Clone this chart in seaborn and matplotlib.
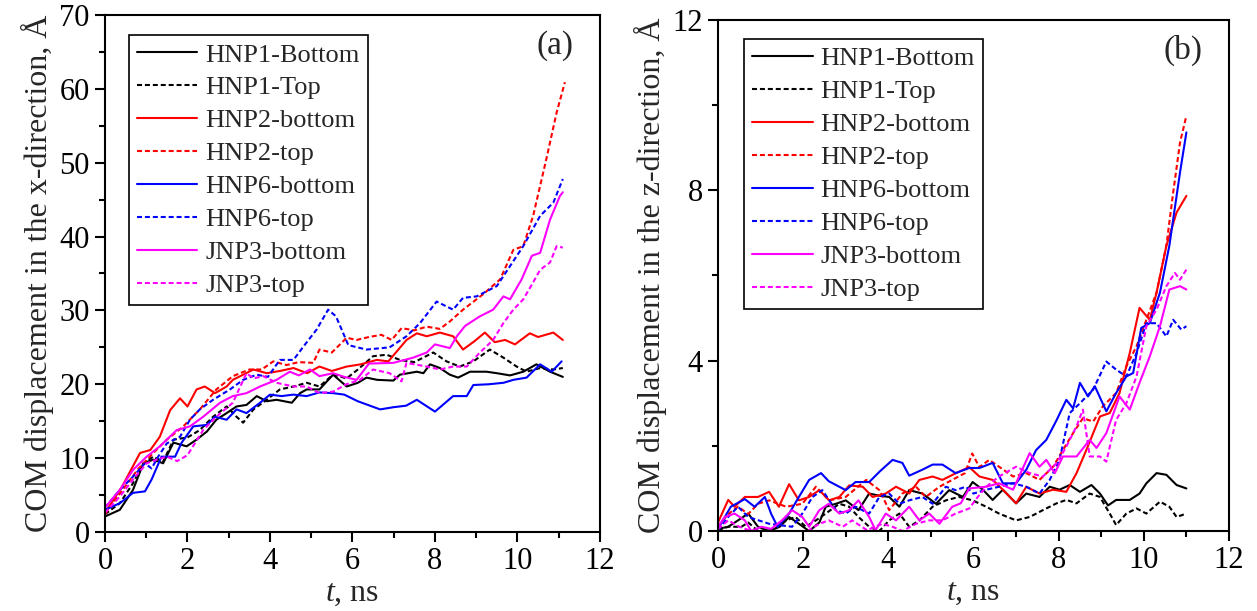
import matplotlib
matplotlib.use("Agg")
import matplotlib.pyplot as plt
from matplotlib.ticker import MultipleLocator
import seaborn as sns

# ---------------- (a) COM displacement along x ----------------
a_hnp1_bot_t = [0, 0.36, 0.68, 0.93, 1.17, 1.41, 1.66, 1.98, 2.22, 2.47, 2.7, 2.95, 3.19, 3.43, 3.68, 3.92, 4.16, 4.53, 4.73, 4.89, 5.2, 5.53, 5.86, 6.13, 6.34, 6.6, 6.99, 7.15, 7.56, 7.72, 7.88, 8.12, 8.36, 8.56, 8.85, 9.25, 9.5, 9.82, 10.14, 10.46, 10.79, 11.1]
a_hnp1_bot_y = [2.1, 3.0, 5.7, 9.3, 9.8, 9.3, 12.1, 11.6, 12.5, 13.6, 15.2, 16.1, 17.0, 17.2, 18.4, 17.7, 17.9, 17.5, 18.8, 19.3, 19.3, 21.3, 19.7, 20.2, 20.9, 20.6, 20.5, 21.3, 21.7, 21.5, 22.7, 22.2, 21.3, 20.9, 21.7, 21.7, 21.5, 21.2, 21.7, 22.7, 21.7, 21.0]

a_hnp1_top_t = [0, 0.36, 0.68, 0.93, 1.17, 1.41, 1.66, 2.0, 2.3, 2.62, 2.95, 3.19, 3.35, 3.6, 3.92, 4.24, 4.57, 4.89, 5.2, 5.53, 5.86, 6.13, 6.5, 6.83, 7.15, 7.5, 7.96, 8.28, 8.6, 8.93, 9.33, 9.66, 9.98, 10.22, 10.55, 10.87, 11.1]
a_hnp1_top_y = [2.4, 3.9, 6.6, 9.3, 10.2, 9.5, 12.5, 12.8, 13.8, 15.6, 17.0, 15.6, 14.8, 16.6, 17.9, 19.3, 19.7, 20.2, 19.7, 21.3, 20.8, 22.0, 23.8, 24.0, 23.3, 23.0, 24.3, 23.1, 22.4, 23.1, 24.7, 23.6, 22.4, 21.7, 22.2, 22.0, 22.2]

a_hnp2_bot_t = [0, 0.4, 0.85, 1.1, 1.33, 1.58, 1.82, 2.0, 2.22, 2.42, 2.67, 2.95, 3.1, 3.6, 3.92, 4.24, 4.57, 4.9, 5.2, 5.5, 5.86, 6.2, 6.59, 6.87, 7.31, 7.56, 7.8, 8.12, 8.44, 8.68, 8.95, 9.21, 9.45, 9.7, 9.94, 10.3, 10.5, 10.87, 11.1]
a_hnp2_bot_y = [2.6, 6.0, 10.7, 11.1, 12.9, 16.5, 18.1, 17.0, 19.3, 19.7, 18.8, 19.7, 20.6, 22.0, 21.5, 21.8, 22.2, 21.5, 22.4, 21.8, 22.4, 22.7, 23.3, 23.1, 26.0, 26.9, 26.5, 27.0, 26.5, 24.7, 25.8, 27.0, 25.7, 26.0, 25.4, 26.9, 26.4, 27.0, 26.0]

a_hnp2_top_t = [0, 0.4, 0.8, 1.17, 1.5, 1.9, 2.3, 2.7, 3.1, 3.5, 3.8, 4.08, 4.4, 4.7, 5.05, 5.2, 5.5, 5.86, 6.1, 6.4, 6.7, 6.95, 7.19, 7.5, 7.8, 8.12, 8.36, 8.68, 9.17, 9.58, 9.9, 10.14, 10.38, 10.7, 10.95, 11.15]
a_hnp2_top_y = [2.4, 5.5, 8.5, 10.7, 12.5, 14.3, 16.6, 19.3, 21.1, 22.0, 22.0, 23.1, 22.6, 23.0, 22.9, 24.7, 24.3, 26.3, 26.0, 26.4, 26.7, 26.0, 27.6, 27.3, 27.8, 27.5, 28.5, 30.1, 32.2, 34.2, 38.2, 38.7, 42.8, 50.5, 56.8, 60.9]

a_hnp6_bot_t = [0, 0.36, 0.68, 0.97, 1.13, 1.37, 1.7, 1.86, 2.14, 2.47, 2.67, 2.95, 3.19, 3.43, 3.76, 4.0, 4.28, 4.57, 4.89, 5.2, 5.53, 5.8, 6.13, 6.67, 7.0, 7.3, 7.56, 8.0, 8.44, 8.77, 8.93, 9.3, 9.66, 9.9, 10.22, 10.55, 10.83, 11.07]
a_hnp6_bot_y = [3.0, 3.9, 5.3, 5.5, 7.1, 10.2, 10.2, 12.1, 14.3, 14.5, 15.6, 15.2, 16.6, 16.1, 17.5, 18.6, 18.4, 18.6, 18.4, 18.9, 18.8, 18.6, 17.7, 16.6, 16.9, 17.1, 17.9, 16.3, 18.4, 18.4, 19.9, 20.0, 20.2, 20.6, 20.9, 22.7, 21.7, 23.1]

a_hnp6_top_t = [0, 0.36, 0.68, 0.97, 1.13, 1.29, 1.5, 1.82, 2.06, 2.3, 2.62, 3.03, 3.35, 3.68, 3.95, 4.24, 4.57, 4.81, 5.13, 5.41, 5.6, 5.9, 6.34, 6.9, 7.31, 7.64, 8.04, 8.44, 8.68, 9.01, 9.5, 9.82, 10.14, 10.55, 10.87, 11.1]
a_hnp6_top_y = [3.3, 5.7, 7.5, 9.3, 8.6, 10.2, 12.0, 12.9, 15.2, 16.6, 17.9, 19.3, 20.6, 21.3, 21.0, 23.3, 23.3, 25.1, 27.4, 30.1, 29.2, 25.3, 24.7, 25.0, 26.5, 28.3, 31.2, 30.1, 31.7, 31.9, 33.3, 36.0, 38.7, 42.8, 44.6, 47.8]

a_jnp3_bot_t = [0, 0.36, 0.68, 1.01, 1.33, 1.74, 2.06, 2.38, 2.79, 3.1, 3.43, 3.76, 4.16, 4.48, 4.7, 4.97, 5.2, 5.53, 5.8, 6.1, 6.4, 6.99, 7.47, 7.8, 8.0, 8.36, 8.53, 8.73, 9.09, 9.41, 9.66, 9.82, 10.1, 10.35, 10.55, 10.79, 11.03, 11.1]
a_jnp3_bot_y = [3.3, 5.7, 8.4, 10.2, 11.6, 13.8, 14.3, 15.6, 17.5, 18.4, 18.8, 19.7, 20.6, 21.7, 21.2, 22.0, 21.1, 21.5, 21.0, 20.6, 22.8, 22.9, 23.6, 24.3, 25.4, 24.9, 26.5, 27.9, 29.2, 30.1, 31.9, 31.5, 34.2, 37.4, 37.8, 42.3, 45.5, 46.0]

a_jnp3_top_t = [0, 0.36, 0.68, 1.01, 1.25, 1.5, 1.75, 2.0, 2.38, 2.7, 3.1, 3.43, 3.6, 3.84, 4.16, 4.57, 4.89, 5.2, 5.53, 5.85, 6.18, 6.5, 6.9, 7.19, 7.31, 7.8, 8.12, 8.44, 8.77, 9.09, 9.41, 9.66, 9.9, 10.14, 10.38, 10.55, 10.79, 10.95, 11.1]
a_jnp3_top_y = [2.6, 4.8, 7.1, 9.3, 9.8, 10.2, 9.6, 10.4, 13.8, 15.6, 17.5, 21.5, 20.8, 21.1, 20.2, 19.7, 19.7, 18.8, 19.0, 20.0, 20.6, 22.0, 21.5, 20.4, 22.9, 22.4, 22.0, 22.4, 22.4, 24.3, 26.0, 28.3, 30.1, 31.5, 33.8, 35.5, 36.5, 38.7, 38.5]

# ---------------- (b) COM displacement along z ----------------
b_hnp1_bot_t = [0, 0.24, 0.47, 0.71, 0.94, 1.2, 1.45, 1.67, 1.9, 2.14, 2.38, 2.53, 2.77, 3.0, 3.3, 3.55, 3.79, 4.02, 4.26, 4.49, 4.8, 5.12, 5.43, 5.75, 5.98, 6.22, 6.45, 6.69, 7.0, 7.24, 7.55, 7.79, 8.02, 8.26, 8.5, 8.77, 8.97, 9.16, 9.35, 9.67, 9.9, 10.06, 10.3, 10.53, 10.77, 11.0]
b_hnp1_bot_y = [0.05, 0.1, 0.25, 0.41, 0.1, 0.0, 0.1, 0.33, 0.17, 0.0, 0.2, 0.57, 0.64, 0.72, 0.49, 0.88, 0.83, 0.8, 0.57, 0.96, 0.88, 0.64, 0.96, 0.8, 1.15, 0.97, 0.73, 0.97, 0.65, 0.88, 0.8, 1.04, 0.97, 1.08, 0.92, 1.08, 0.88, 0.6, 0.73, 0.73, 0.88, 1.12, 1.36, 1.32, 1.08, 1.0]

b_hnp1_top_t = [0, 0.24, 0.55, 0.71, 0.94, 1.3, 1.6, 1.82, 2.06, 2.3, 2.53, 2.85, 3.08, 3.3, 3.55, 3.79, 4.02, 4.26, 4.49, 4.73, 5.04, 5.35, 5.66, 5.98, 6.3, 6.6, 7.0, 7.32, 7.63, 7.95, 8.18, 8.42, 8.73, 8.97, 9.2, 9.35, 9.59, 9.83, 10.06, 10.38, 10.6, 10.77, 11.0]
b_hnp1_top_y = [0.02, 0.1, 0.1, 0.2, 0.0, 0.02, 0.25, 0.33, 0.1, 0.25, 0.41, 0.64, 0.57, 0.33, 0.1, 0.0, 0.25, 0.41, 0.1, 0.25, 0.57, 0.72, 0.8, 0.72, 0.57, 0.41, 0.25, 0.33, 0.49, 0.65, 0.73, 0.65, 0.88, 0.8, 0.41, 0.14, 0.41, 0.53, 0.41, 0.69, 0.57, 0.33, 0.41]

b_hnp2_bot_t = [0, 0.24, 0.39, 0.63, 0.94, 1.2, 1.43, 1.67, 1.9, 2.14, 2.38, 2.61, 2.85, 3.08, 3.4, 3.63, 3.94, 4.18, 4.49, 4.73, 5.04, 5.27, 5.59, 5.9, 6.14, 6.45, 6.69, 7.0, 7.24, 7.55, 7.87, 8.18, 8.42, 8.65, 8.97, 9.2, 9.43, 9.67, 9.9, 10.14, 10.3, 10.53, 10.77, 11.0]
b_hnp2_bot_y = [0.2, 0.73, 0.57, 0.8, 0.8, 0.92, 0.57, 1.1, 0.72, 0.8, 0.96, 0.72, 0.8, 1.07, 1.04, 0.8, 0.88, 1.04, 0.88, 1.2, 1.28, 1.2, 1.36, 1.5, 1.28, 1.2, 0.97, 0.65, 1.04, 0.88, 0.97, 0.92, 1.36, 1.9, 2.69, 2.77, 3.24, 4.18, 5.24, 4.96, 5.6, 6.7, 7.48, 7.87]

b_hnp2_top_t = [0, 0.24, 0.47, 0.71, 0.94, 1.2, 1.6, 1.98, 2.3, 2.61, 3.0, 3.48, 3.79, 4.02, 4.33, 4.65, 4.88, 5.2, 5.5, 5.8, 5.97, 6.14, 6.37, 6.6, 6.93, 7.24, 7.55, 7.87, 8.1, 8.34, 8.57, 8.81, 9.04, 9.35, 9.59, 9.83, 10.06, 10.3, 10.53, 10.69, 10.85, 11.0]
b_hnp2_top_y = [0.1, 0.4, 0.57, 0.4, 0.64, 0.72, 0.57, 0.64, 1.04, 0.72, 0.8, 1.2, 0.96, 0.49, 0.88, 1.04, 0.8, 1.04, 1.2, 1.36, 1.82, 1.5, 1.67, 1.51, 1.28, 1.36, 1.2, 1.51, 1.9, 2.3, 2.65, 2.57, 2.93, 3.24, 3.87, 4.34, 4.96, 5.6, 6.7, 7.95, 9.12, 9.75]

b_hnp6_bot_t = [0, 0.3, 0.63, 0.86, 1.1, 1.25, 1.4, 1.67, 1.9, 2.14, 2.42, 2.6, 3.0, 3.23, 3.55, 3.8, 4.1, 4.33, 4.49, 4.8, 5.04, 5.27, 5.58, 5.9, 6.14, 6.45, 6.69, 7.0, 7.24, 7.47, 7.71, 7.95, 8.18, 8.34, 8.5, 8.69, 8.85, 9.12, 9.35, 9.59, 9.75, 9.94, 10.14, 10.38, 10.6, 10.85, 11.0]
b_hnp6_bot_y = [0.05, 0.57, 0.75, 0.57, 0.8, 0.4, 0.1, 0.41, 0.8, 1.2, 1.36, 1.17, 0.96, 1.15, 1.15, 1.4, 1.67, 1.6, 1.3, 1.44, 1.56, 1.56, 1.36, 1.48, 1.48, 1.6, 1.12, 1.12, 1.44, 1.9, 2.14, 2.6, 3.08, 2.88, 3.48, 3.16, 3.4, 2.81, 3.24, 3.63, 3.71, 4.77, 4.88, 5.6, 6.7, 8.42, 9.36]

b_hnp6_top_t = [0, 0.24, 0.47, 0.71, 1.2, 1.74, 1.98, 2.22, 2.45, 2.77, 3.0, 3.23, 3.55, 3.79, 4.02, 4.26, 4.49, 4.8, 5.04, 5.35, 5.58, 5.82, 6.0, 6.3, 6.6, 6.93, 7.24, 7.55, 7.79, 8.02, 8.26, 8.5, 8.81, 9.12, 9.35, 9.59, 9.83, 10.06, 10.3, 10.53, 10.69, 10.88, 11.0]
b_hnp6_top_y = [0.02, 0.33, 0.57, 0.33, 0.17, 0.1, 0.41, 0.8, 0.96, 0.49, 0.41, 0.57, 0.41, 0.8, 0.88, 0.64, 0.72, 0.8, 0.64, 1.04, 0.96, 1.04, 0.88, 0.97, 1.04, 1.12, 1.04, 0.88, 1.2, 1.67, 2.77, 3.0, 3.32, 3.98, 3.79, 3.63, 4.18, 4.88, 4.88, 4.57, 4.96, 4.73, 4.81]

b_jnp3_bot_t = [0, 0.16, 0.39, 0.63, 0.78, 1.02, 1.25, 1.5, 1.74, 1.98, 2.14, 2.38, 2.6, 2.85, 3.08, 3.3, 3.55, 3.7, 3.94, 4.18, 4.49, 4.73, 4.96, 5.2, 5.5, 5.7, 5.9, 6.3, 6.6, 6.93, 7.32, 7.55, 7.71, 7.91, 8.1, 8.42, 8.73, 8.89, 9.12, 9.43, 9.67, 9.9, 10.14, 10.38, 10.6, 10.85, 11.0]
b_jnp3_bot_y = [0.1, 0.33, 0.41, 0.25, 0.0, 0.1, 0.05, 0.25, 0.49, 0.33, 0.1, 0.49, 0.64, 0.41, 0.49, 0.72, 0.33, 0.02, 0.41, 0.25, 0.57, 0.25, 0.41, 0.17, 0.57, 0.65, 1.0, 1.04, 1.12, 0.97, 1.83, 1.51, 1.67, 1.36, 1.75, 1.75, 2.14, 1.95, 2.3, 3.16, 2.85, 3.48, 4.1, 4.81, 5.67, 5.75, 5.67]

b_jnp3_top_t = [0, 0.24, 0.5, 0.78, 1.33, 2.1, 2.38, 2.6, 2.93, 3.15, 3.5, 3.86, 4.1, 4.33, 4.65, 4.96, 5.27, 5.58, 5.9, 6.1, 6.3, 6.6, 7.0, 7.32, 7.63, 7.95, 8.18, 8.42, 8.57, 8.73, 8.97, 9.12, 9.35, 9.59, 9.83, 10.06, 10.3, 10.53, 10.73, 10.85, 11.0]
b_jnp3_top_y = [0.05, 0.25, 0.1, 0.0, 0.0, 0.0, 0.17, 0.25, 0.1, 0.25, 0.02, 0.17, 0.1, 0.0, 0.17, 0.25, 0.25, 0.41, 0.53, 0.8, 1.04, 1.28, 1.51, 1.36, 1.28, 1.59, 1.98, 2.46, 2.85, 1.75, 1.75, 1.63, 2.61, 3.0, 3.63, 4.81, 5.2, 5.75, 6.06, 5.9, 6.14]

labels = ["HNP1-Bottom", "HNP1-Top", "HNP2-bottom", "HNP2-top",
          "HNP6-bottom", "HNP6-top", "JNP3-bottom", "JNP3-top"]

panel_a = [(a_hnp1_bot_t, a_hnp1_bot_y), (a_hnp1_top_t, a_hnp1_top_y),
           (a_hnp2_bot_t, a_hnp2_bot_y), (a_hnp2_top_t, a_hnp2_top_y),
           (a_hnp6_bot_t, a_hnp6_bot_y), (a_hnp6_top_t, a_hnp6_top_y),
           (a_jnp3_bot_t, a_jnp3_bot_y), (a_jnp3_top_t, a_jnp3_top_y)]
panel_b = [(b_hnp1_bot_t, b_hnp1_bot_y), (b_hnp1_top_t, b_hnp1_top_y),
           (b_hnp2_bot_t, b_hnp2_bot_y), (b_hnp2_top_t, b_hnp2_top_y),
           (b_hnp6_bot_t, b_hnp6_bot_y), (b_hnp6_top_t, b_hnp6_top_y),
           (b_jnp3_bot_t, b_jnp3_bot_y), (b_jnp3_top_t, b_jnp3_top_y)]

colors = ["black", "black", "#ff0000", "#ff0000", "#0000ff", "#0000ff", "#ff00ff", "#ff00ff"]
styles = ["-", (0, (2.4, 1.4)), "-", (0, (2.4, 1.4)), "-", (0, (2.4, 1.4)), "-", (0, (2.4, 1.4))]

sns.set_style("ticks")
plt.rcParams["font.family"] = ["Liberation Serif", "DejaVu Serif"]
plt.rcParams["mathtext.fontset"] = "custom"
plt.rcParams["mathtext.it"] = "Liberation Serif:italic"
plt.rcParams["mathtext.rm"] = "Liberation Serif"

fig = plt.figure(figsize=(12.57, 6.11), dpi=100)
ax_a = fig.add_axes([0.0835, 0.1293, 0.3938, 0.8462])
ax_b = fig.add_axes([0.5712, 0.1309, 0.4065, 0.8364])


def draw_panel(ax, series, ymax, ymajor, yminor, ylabel, tag, leg_anchor):
    for (t, y), lab, c, ls in zip(series, labels, colors, styles):
        sns.lineplot(x=t, y=y, ax=ax, color=c, linestyle=ls, linewidth=1.5,
                     sort=False, estimator=None, label=lab)
    ax.set_xlim(0, 12)
    ax.set_ylim(0, ymax)
    ax.xaxis.set_major_locator(MultipleLocator(2))
    ax.xaxis.set_minor_locator(MultipleLocator(1))
    ax.yaxis.set_major_locator(MultipleLocator(ymajor))
    ax.yaxis.set_minor_locator(MultipleLocator(yminor))
    ax.tick_params(which="both", direction="out", top=False, right=False,
                   width=1.5, labelsize=22, colors="black")
    ax.tick_params(which="major", length=7, pad=4)
    ax.tick_params(which="minor", length=4)
    for sp in ax.spines.values():
        sp.set_visible(True)
        sp.set_linewidth(1.5)
        sp.set_color("black")
    ax.set_xlabel(r"$\mathit{t}$, ns", fontsize=23, labelpad=2)
    ax.set_ylabel(ylabel, fontsize=23, labelpad=4)
    ax.text(0.91, 0.94, tag, transform=ax.transAxes, fontsize=24,
            ha="center", va="center")
    leg = ax.legend(loc="upper left", bbox_to_anchor=leg_anchor,
                    borderaxespad=0, fontsize=19, frameon=True, fancybox=False,
                    handlelength=2.3, handletextpad=0.3, borderpad=0.3,
                    labelspacing=0.36)
    fr = leg.get_frame()
    fr.set_edgecolor("black")
    fr.set_linewidth(1.2)
    fr.set_alpha(1)


draw_panel(ax_a, panel_a, 70, 10, 5, "COM displacement in the x-direction, Å",
           "(a)", (0.048, 0.961))
draw_panel(ax_b, panel_b, 12, 4, 2, "COM displacement in the z-direction, Å",
           "(b)", (0.051, 0.963))

fig.savefig("out.png", dpi=100, facecolor="white")
